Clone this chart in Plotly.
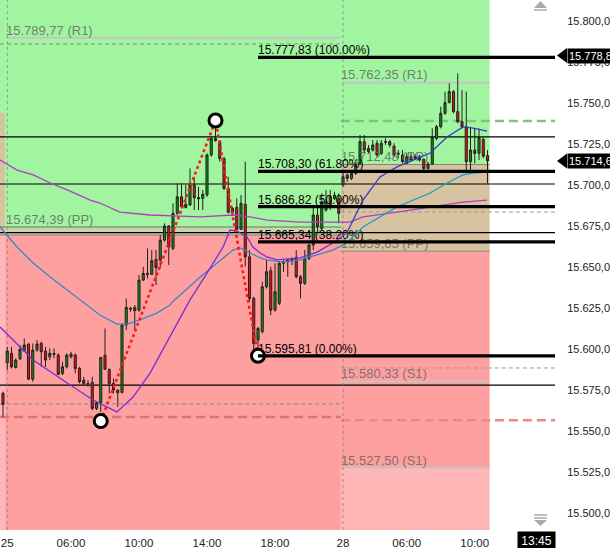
import plotly.graph_objects as go

# ---------------- data ----------------
idx = list(range(115))
opens = [15573.0, 15591.6, 15597.3, 15588.7, 15594.0, 15598.7, 15603.0, 15581.6, 15599.3, 15603.4,
         15598.7, 15595.2, 15597.3, 15596.3, 15585.1, 15589.1, 15595.2, 15596.3, 15588.1, 15581.0,
         15579.0, 15579.6, 15563.7, 15567.4, 15596.1, 15587.5, 15579.0, 15573.3, 15573.5, 15614.6,
         15624.8, 15625.3, 15623.7, 15642.0, 15646.1, 15645.5, 15654.6, 15654.2, 15666.4, 15675.0,
         15661.3, 15682.7, 15692.8, 15686.3, 15687.8, 15700.0, 15692.4, 15691.8, 15693.9, 15718.3,
         15727.0, 15726.4, 15716.2, 15697.9, 15683.1, 15686.3, 15672.9, 15688.2, 15656.2, 15630.8,
         15605.4, 15610.5, 15637.9, 15647.7, 15623.7, 15627.8, 15652.2, 15653.2, 15654.2, 15655.8,
         15644.0, 15640.0, 15655.2, 15663.4, 15681.7, 15673.5, 15684.7, 15692.8, 15691.8, 15691.8,
         15700.0, 15706.1, 15704.0, 15707.1, 15713.2, 15726.4, 15722.3, 15721.3, 15725.4, 15719.3,
         15726.0, 15726.4, 15723.7, 15719.3, 15718.3, 15713.2, 15717.2, 15717.2, 15717.2, 15715.6,
         15710.1, 15712.8, 15728.4, 15735.5, 15743.7, 15750.2, 15756.9, 15744.7, 15738.6, 15735.5,
         15714.2, 15721.3, 15719.3, 15727.8, 15717.9]
highs = [15574.0, 15601.3, 15601.3, 15594.2, 15602.4, 15606.4, 15603.4, 15603.4, 15605.4, 15604.4,
         15601.3, 15600.3, 15600.3, 15597.3, 15592.2, 15597.3, 15598.3, 15597.3, 15589.1, 15583.0,
         15581.0, 15583.0, 15567.8, 15595.2, 15612.5, 15588.1, 15582.0, 15575.3, 15615.6, 15630.8,
         15625.7, 15626.8, 15645.1, 15650.1, 15661.3, 15660.3, 15660.3, 15669.5, 15676.6, 15675.6,
         15688.8, 15701.0, 15701.0, 15700.0, 15710.1, 15705.0, 15698.9, 15696.9, 15719.3, 15729.4,
         15737.0, 15727.4, 15717.2, 15705.0, 15686.7, 15691.8, 15693.9, 15714.2, 15660.3, 15631.8,
         15613.5, 15641.0, 15654.2, 15650.1, 15652.2, 15653.2, 15654.2, 15655.2, 15655.8, 15660.3,
         15645.1, 15660.3, 15664.4, 15687.8, 15686.7, 15694.9, 15696.9, 15696.9, 15695.9, 15694.9,
         15708.1, 15707.1, 15708.1, 15713.2, 15730.5, 15730.5, 15724.4, 15727.4, 15727.4, 15727.4,
         15728.4, 15727.4, 15725.4, 15721.3, 15721.3, 15719.3, 15719.3, 15718.7, 15718.3, 15716.2,
         15714.2, 15734.5, 15736.6, 15747.7, 15756.9, 15762.0, 15757.9, 15768.1, 15757.9, 15756.9,
         15735.5, 15734.5, 15734.5, 15729.4, 15721.3]
lows = [15558.6, 15587.1, 15588.1, 15588.1, 15593.2, 15598.3, 15581.0, 15580.0, 15598.3, 15589.1,
        15589.1, 15593.2, 15594.2, 15584.1, 15584.1, 15588.1, 15594.2, 15585.1, 15579.0, 15578.0,
        15577.0, 15562.7, 15562.7, 15561.7, 15587.1, 15572.9, 15572.9, 15564.7, 15572.9, 15611.5,
        15622.7, 15611.5, 15622.7, 15641.5, 15643.0, 15645.1, 15639.0, 15649.1, 15665.4, 15651.2,
        15660.3, 15681.7, 15685.7, 15685.7, 15687.2, 15684.7, 15684.7, 15684.7, 15692.8, 15717.2,
        15726.4, 15714.2, 15696.9, 15682.7, 15681.7, 15672.5, 15672.5, 15650.2, 15628.8, 15598.5,
        15598.0, 15609.5, 15636.9, 15620.7, 15622.7, 15626.8, 15647.1, 15644.0, 15651.2, 15643.0,
        15630.8, 15639.0, 15654.2, 15660.3, 15672.5, 15672.5, 15683.7, 15684.7, 15690.8, 15676.6,
        15699.0, 15702.0, 15703.0, 15706.1, 15712.2, 15719.3, 15719.3, 15720.3, 15717.2, 15718.3,
        15724.4, 15722.9, 15717.2, 15716.2, 15713.2, 15712.8, 15714.2, 15715.2, 15714.2, 15709.1,
        15709.5, 15712.2, 15727.4, 15734.5, 15742.7, 15749.8, 15743.7, 15737.6, 15734.5, 15708.1,
        15708.1, 15713.2, 15715.2, 15716.2, 15701.0]
closes = [15566.2, 15598.7, 15589.1, 15593.2, 15599.7, 15602.4, 15581.6, 15599.3, 15603.0, 15598.3,
          15593.2, 15597.3, 15596.7, 15584.5, 15589.1, 15596.3, 15596.9, 15588.1, 15580.0, 15579.0,
          15578.8, 15563.7, 15567.2, 15594.8, 15587.7, 15579.0, 15574.9, 15574.9, 15614.6, 15625.3,
          15624.3, 15623.3, 15642.0, 15646.1, 15645.5, 15653.8, 15649.7, 15666.4, 15675.0, 15662.3,
          15682.7, 15692.8, 15686.7, 15688.2, 15700.0, 15692.2, 15691.6, 15694.3, 15718.3, 15728.4,
          15728.4, 15716.2, 15697.9, 15683.3, 15685.7, 15672.9, 15688.8, 15656.2, 15630.8, 15603.4,
          15612.5, 15637.9, 15647.1, 15623.7, 15634.9, 15652.2, 15653.2, 15654.2, 15654.8, 15644.0,
          15640.0, 15655.2, 15663.4, 15681.7, 15674.5, 15689.8, 15689.8, 15687.8, 15693.8, 15682.7,
          15705.0, 15704.0, 15707.1, 15712.2, 15726.4, 15721.3, 15720.3, 15724.4, 15718.3, 15725.4,
          15726.4, 15724.4, 15718.3, 15718.9, 15714.2, 15717.2, 15715.2, 15716.2, 15715.2, 15710.1,
          15712.8, 15729.0, 15735.5, 15743.7, 15750.2, 15756.9, 15744.7, 15738.6, 15735.5, 15714.2,
          15721.3, 15719.3, 15729.0, 15717.6, 15714.67]

# moving averages (read at traced points)
ma_steel_x = [-0.7, 3.3, 7.1, 11.1, 15.1, 18.8, 22.8, 26.8, 29.2, 32.2, 36.2, 39.3, 40.0, 46.4, 50.4,
              54.1, 55.8, 58.1, 60.5, 62.1, 65.9, 69.9, 73.9, 77.6, 80.9]
ma_steel_y = [15674.4, 15662.2, 15652.4, 15643.9, 15636.0, 15628.6, 15620.7, 15615.2, 15615.2, 15617.7,
              15621.9, 15626.8, 15629.0, 15643.9, 15652.4, 15660.3, 15661.6, 15658.5, 15655.5, 15654.3,
              15653.0, 15654.3, 15657.3, 15660.3, 15664.6]
ma_teal_x = [80.9, 84.7, 92.7, 100.5, 104.5, 108.2, 110.6, 113.9]
ma_teal_y = [15664.6, 15674.4, 15686.6, 15695.1, 15701.2, 15706.1, 15707.3, 15707.9]

ma_purple_x = [-0.7, 1.6, 7.1, 15.1, 21.2, 26.8, 30.6, 34.6, 39.3, 44.0, 48.0, 51.8, 53.4, 55.1, 57.4,
               58.8, 60.5, 62.1, 64.5, 69.9, 73.9, 77.6, 80.9]
ma_purple_y = [15613.4, 15607.3, 15593.3, 15579.2, 15568.9, 15561.6, 15570.7, 15585.3, 15607.3, 15629.9,
               15646.3, 15662.2, 15672.5, 15671.9, 15668.3, 15662.2, 15658.5, 15656.1, 15654.3, 15655.5,
               15659.1, 15664.6, 15670.7]
ma_blue_x = [80.9, 84.7, 88.7, 92.7, 96.5, 100.5, 104.5, 108.2, 110.6, 113.9]
ma_blue_y = [15670.7, 15690.8, 15704.9, 15711.0, 15715.2, 15719.5, 15729.3, 15735.4, 15734.7, 15732.9]

ma_magenta_x = [-0.7, 3.3, 7.1, 11.1, 15.1, 20.5, 22.8, 27.5, 34.6, 46.4, 54.1, 58.1, 62.1, 69.9, 81.6,
                84.7, 92.7, 100.5, 108.2, 113.9]
ma_magenta_y = [15715.2, 15709.1, 15706.1, 15701.2, 15697.0, 15690.8, 15689.0, 15683.5, 15681.7, 15680.5,
                15681.7, 15680.5, 15678.6, 15677.4, 15677.4, 15680.5, 15683.5, 15686.6, 15689.6, 15690.8]

# zigzag swing points
zz_x = [23, 50, 60]
zz_y = [15556.0, 15739.3, 15595.81]

# fibonacci levels
fib_levels = [15777.83, 15708.30, 15686.82, 15665.34, 15595.81]
fib_pct = ['100.00%', '61.80%', '50.00%', '38.20%', '0.00%']
fib_start = 60

# pivot levels per session
left_r1, left_pp, left_band_low = 15789.77, 15674.39, 15669.5
right_r1, right_pp_hi, right_pp_lo = 15762.35, 15712.48, 15659.65
right_s1a, right_s1b = 15580.33, 15527.50
prev_band_hi = 15743.9

# horizontal reference lines
thin_lines = [15729.3, 15700.6, 15671.0, 15578.0]
left_gray_dash = [15786.0, 15566.5]
left_red_dash = 15558.5
right_gray_dash = [15683.5, 15588.4]
right_green_dash = 15739.0
right_red_dash = 15556.5

# session boundaries (candle index)
x_min, sess_l, sess_mid, sess_r, x_max = -0.706, 0.5, 79.5, 114.5, 129.88
day_starts = [1, 80]

x_tick_idx = [1, 16, 32, 48, 64, 80, 95, 111]
x_tick_text = ['25', '06:00', '10:00', '14:00', '18:00', '28', '06:00', '10:00']
y_tick_vals = [15500, 15525, 15550, 15575, 15600, 15625, 15650, 15675, 15700, 15725, 15750, 15775, 15800]
y_tick_text = ['15.500,00', '15.525,00', '15.550,00', '15.575,00', '15.600,00', '15.625,00', '15.650,00',
               '15.675,00', '15.700,00', '15.725,00', '15.750,00', '15.775,00', '15.800,00']
y_min, y_max = 15489.6, 15812.8

last_price = 15714.67
marker_price = 15778.88
cursor_label = '13:45'
cursor_idx = 125.6


def fmt(v):
    s = f"{v:,.2f}"
    return s.replace(",", "X").replace(".", ",").replace("X", ".")


GREEN = '#a2f5a0'
RED = '#ffa0a0'
TAN = '#d7c3a0'
LPINK = '#ffb6b6'
BAND = '#c9d6a8'
FONT = 'Liberation Sans, Arial, sans-serif'

shapes = []


def rect(x0, x1, y0, y1, color):
    shapes.append(dict(type='rect', xref='x', yref='y', x0=x0, x1=x1, y0=y0, y1=y1,
                       fillcolor=color, line=dict(width=0), layer='below'))


def hline(x0, x1, y, color, width=1, dash='solid', layer='below'):
    shapes.append(dict(type='line', xref='x', yref='y', x0=x0, x1=x1, y0=y, y1=y,
                       line=dict(color=color, width=width, dash=dash), layer=layer))


# backgrounds
rect(x_min, sess_l, prev_band_hi, y_max, GREEN)
rect(x_min, sess_l, left_band_low, prev_band_hi, TAN)
rect(x_min, sess_l, y_min, left_band_low, LPINK)
rect(sess_l, sess_mid, left_pp, y_max, GREEN)
rect(sess_l, sess_mid, left_band_low, left_pp, BAND)
rect(sess_l, sess_mid, y_min, left_band_low, RED)
rect(sess_mid, sess_r, right_pp_hi, y_max, GREEN)
rect(sess_mid, sess_r, right_pp_lo, right_pp_hi, TAN)
rect(sess_mid, sess_r, right_s1b, right_pp_lo, RED)
rect(sess_mid, sess_r, y_min, right_s1b, LPINK)

# pivot level lines
hline(sess_l, sess_mid, left_r1, '#c4c4c4', 2)
hline(x_min, sess_mid, left_pp, '#707070', 1)
hline(x_min, sess_mid, left_band_low, '#808080', 1)
hline(sess_mid, sess_r, right_r1, '#c4c4c4', 2)
hline(sess_mid, sess_r, right_pp_hi, '#8c8070', 1)
hline(sess_mid, sess_r, right_pp_lo, '#8c8070', 1)
hline(sess_mid, sess_r, right_s1a, '#c4c4c4', 2)
hline(sess_mid, sess_r, right_s1b, '#c4c4c4', 2)

for v in thin_lines:
    hline(x_min, x_max, v, '#000000', 1.2)
for v in left_gray_dash:
    hline(x_min, sess_mid, v, '#888888', 1, '4px,3px')
hline(x_min, sess_mid, left_red_dash, '#e07272', 2.5, '9px,5px')
for v in right_gray_dash:
    hline(sess_mid, x_max, v, '#999999', 1, '4px,3px')
hline(sess_mid, x_max, right_green_dash, '#78c878', 2.5, '9px,5px')
hline(sess_mid, x_max, right_red_dash, '#e58a8a', 2.5, '9px,5px')

for d in day_starts:
    shapes.append(dict(type='line', xref='x', yref='y', x0=d, x1=d, y0=y_min, y1=y_max,
                       line=dict(color='rgba(110,110,110,0.6)', width=1, dash='dot'), layer='below'))

for v in fib_levels:
    hline(fib_start, x_max, v, '#000000', 3.2, 'solid', 'above')

# price markers on the axis
PXW = 555.0
for v in [marker_price, last_price]:
    dy = 7.5 * (y_max - y_min) / 530.0
    shapes.append(dict(type='path', xref='paper', yref='y',
                       path=f"M {557/PXW},{v} L {567/PXW},{v+dy} L {567/PXW},{v-dy} Z",
                       fillcolor='black', line=dict(width=0)))

# scroll arrows
def pp(px, py):
    return px / PXW, (530 - py) / 530.0

ax0, ay0 = pp(534, 8); ax1, ay1 = pp(547, 8); axm, aym = pp(540.5, 1)
shapes.append(dict(type='path', xref='paper', yref='paper',
                   path=f"M {ax0},{ay0} L {ax1},{ay1} L {axm},{aym} Z", fillcolor='#aaaaaa', line=dict(width=0)))
bx0, by0 = pp(534, 10); bx1, _ = pp(547, 10)
shapes.append(dict(type='line', xref='paper', yref='paper', x0=bx0, x1=bx1, y0=by0, y1=by0,
                   line=dict(color='#aaaaaa', width=1.5)))
for py in [515, 518]:
    cx0, cy = pp(534, py); cx1, _ = pp(547, py)
    shapes.append(dict(type='line', xref='paper', yref='paper', x0=cx0, x1=cx1, y0=cy, y1=cy,
                       line=dict(color='#aaaaaa', width=1.5)))
dx0, dy0 = pp(534, 520); dx1, _ = pp(547, 520); dxm, dym = pp(540.5, 526)
shapes.append(dict(type='path', xref='paper', yref='paper',
                   path=f"M {dx0},{dy0} L {dx1},{dy0} L {dxm},{dym} Z", fillcolor='#aaaaaa', line=dict(width=0)))

fig = go.Figure()

# labels (drawn beneath candles)
piv_x = [0.7, 0.7, 79.5, 79.5, 79.5, 79.5, 79.5]
piv_y = [left_r1, left_pp, right_r1, right_pp_hi, right_pp_lo, right_s1a, right_s1b]
piv_t = [fmt(left_r1) + ' (R1)', fmt(left_pp) + ' (PP)', fmt(right_r1) + ' (R1)', fmt(right_pp_hi) + ' (PP)',
         fmt(right_pp_lo) + ' (PP)', fmt(right_s1a) + ' (S1)', fmt(right_s1b) + ' (S1)']
fig.add_trace(go.Scatter(x=piv_x, y=piv_y, text=piv_t, mode='text', textposition='top right',
                         textfont=dict(family=FONT, size=13, color='rgba(95,95,95,0.8)'),
                         hoverinfo='skip', showlegend=False))
fig.add_trace(go.Scatter(x=[fib_start] * len(fib_levels), y=fib_levels,
                         text=[fmt(v) + ' (' + p + ')' for v, p in zip(fib_levels, fib_pct)],
                         mode='text', textposition='top right',
                         textfont=dict(family=FONT, size=12, color='#000000'),
                         hoverinfo='skip', showlegend=False))

# moving averages
for xs, ys, col in [(ma_magenta_x, ma_magenta_y, '#b23cbf'), (ma_steel_x, ma_steel_y, '#3a86c2'),
                    (ma_teal_x, ma_teal_y, '#1c9fc4'), (ma_purple_x, ma_purple_y, '#7a2fd4'),
                    (ma_blue_x, ma_blue_y, '#3838cc')]:
    fig.add_trace(go.Scatter(x=xs, y=ys, mode='lines', line=dict(color=col, width=1.3),
                             hoverinfo='skip', showlegend=False))

fig.add_trace(go.Candlestick(x=idx, open=opens, high=highs, low=lows, close=closes,
                             increasing=dict(line=dict(color='#202020', width=1), fillcolor='#128c12'),
                             decreasing=dict(line=dict(color='#202020', width=1), fillcolor='#f01010'),
                             whiskerwidth=0, showlegend=False))

# zigzag
fig.add_trace(go.Scatter(x=zz_x, y=zz_y, mode='lines', line=dict(color='#ff1a1a', width=2.6, dash='dot'),
                         hoverinfo='skip', showlegend=False))
fig.add_trace(go.Scatter(x=zz_x, y=zz_y, mode='markers',
                         marker=dict(size=13, color='white', line=dict(color='black', width=3)),
                         hoverinfo='skip', showlegend=False))

annotations = []
for v in [marker_price, last_price]:
    annotations.append(dict(xref='paper', yref='y', x=1, y=v, xanchor='left', yanchor='middle', xshift=12,
                            text=fmt(v), showarrow=False, bgcolor='black', borderpad=1,
                            font=dict(family=FONT, size=11, color='white')))
annotations.append(dict(xref='x', yref='paper', x=cursor_idx, y=0, xanchor='center', yanchor='top',
                        yshift=-1, text=cursor_label, showarrow=False, bgcolor='black', width=35, height=16,
                        font=dict(family=FONT, size=12, color='white')))

fig.update_layout(
    width=610, height=548,
    margin=dict(l=0, r=55, t=0, b=18, autoexpand=False),
    paper_bgcolor='white', plot_bgcolor='white',
    shapes=shapes, annotations=annotations,
    showlegend=False,
    xaxis=dict(range=[x_min, x_max], rangeslider=dict(visible=False), showgrid=False, zeroline=False,
               tickvals=x_tick_idx, ticktext=x_tick_text, ticks='outside', ticklen=2, automargin=False,
               tickcolor='rgba(0,0,0,0)', tickfont=dict(family=FONT, size=11.5, color='#222222'),
               showline=False, fixedrange=True),
    yaxis=dict(range=[y_min, y_max], side='right', showgrid=False, zeroline=False, automargin=False,
               tickvals=y_tick_vals, ticktext=y_tick_text, ticks='outside', ticklen=9,
               tickcolor='rgba(0,0,0,0)', tickfont=dict(family=FONT, size=11, color='#222222'),
               showline=False, fixedrange=True),
)

fig.write_html("out.html", config={'displayModeBar': False},
               post_script="document.body.style.margin='0';document.body.style.overflow='hidden';")
